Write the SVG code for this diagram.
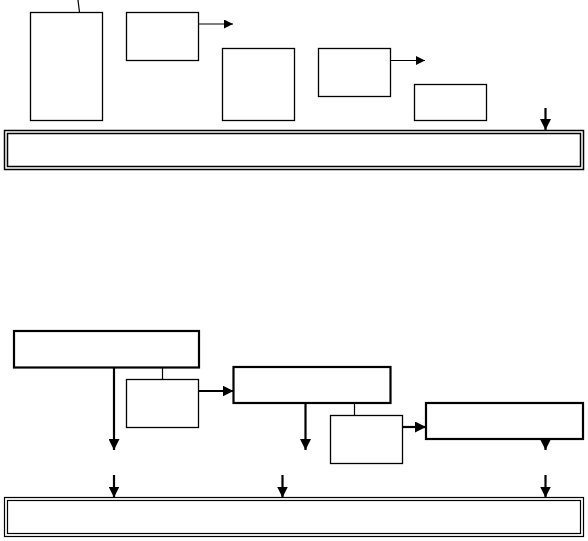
<svg xmlns="http://www.w3.org/2000/svg" width="588" height="541" viewBox="0 0 588 541">
<defs>
<style>
.b{fill:none;stroke:#000;stroke-width:1.3}
.t{fill:none;stroke:#000;stroke-width:2.2}
.c{fill:none;stroke:#000;stroke-width:1.2}
.k{fill:none;stroke:#000;stroke-width:2.2}
</style>
<marker id="ah" viewBox="0 0 10 10" refX="10" refY="5" markerWidth="9" markerHeight="9" markerUnits="userSpaceOnUse" orient="auto"><path d="M0,0L10,5L0,10z" fill="#000"/></marker>
<marker id="ak" viewBox="0 0 10 10" refX="10" refY="5" markerWidth="5" markerHeight="5" orient="auto"><path d="M0,0L10,5L0,10z" fill="#000"/></marker>
</defs>
<rect width="588" height="541" fill="#fff"/>
<g id="top-tall"><rect class="b" x="30.5" y="12.5" width="72" height="108"/></g>
<g id="top-box2"><rect class="b" x="126.5" y="12.5" width="72" height="48"/></g>
<g id="top-box3"><rect class="b" x="222.5" y="48.5" width="72" height="72"/></g>
<g id="top-box4"><rect class="b" x="318.5" y="48.5" width="72" height="48"/></g>
<g id="top-box5"><rect class="b" x="414.5" y="84.5" width="72" height="36"/></g>
<g id="top-bar">
<rect fill="none" stroke="#000" stroke-width="1.5" x="4.5" y="130.5" width="579" height="39"/>
<rect fill="none" stroke="#000" stroke-width="1.5" x="7.5" y="133.5" width="573" height="33"/>
</g>
<g id="bot-box1"><rect class="t" x="14" y="331" width="185" height="36.5"/></g>
<g id="bot-small1"><rect class="b" x="126.5" y="379.5" width="72" height="48"/></g>
<g id="bot-box2"><rect class="t" x="233.5" y="367" width="157" height="36"/></g>
<g id="bot-small2"><rect class="b" x="330.5" y="415.5" width="72" height="48"/></g>
<g id="bot-box3"><rect class="t" x="426" y="403" width="157" height="36"/></g>
<g id="bot-bar">
<rect fill="none" stroke="#000" stroke-width="1.2" x="4.5" y="497.5" width="579" height="39"/>
<rect fill="none" stroke="#000" stroke-width="1.2" x="7.5" y="500.5" width="573" height="33"/>
</g>
<g id="connectors">
<path class="c" d="M78,0L79.5,12.5"/>
<path class="c" d="M198.5,24H233" marker-end="url(#ah)"/>
<path class="c" d="M390.5,60.5H425" marker-end="url(#ah)"/>
<path class="k" d="M545.5,108V130" marker-end="url(#ak)"/>
<path class="k" d="M114,367.5V450" marker-end="url(#ak)"/>
<path class="c" d="M162.5,367.5V379.5"/>
<path class="k" d="M198.5,391H233.5" marker-end="url(#ak)"/>
<path class="k" d="M305.5,403V450" marker-end="url(#ak)"/>
<path class="c" d="M354.5,403V415.5"/>
<path class="k" d="M402.5,427H426" marker-end="url(#ak)"/>
<path class="k" d="M545.5,439V450" marker-end="url(#ak)"/>
<path class="k" d="M114,475V497.5" marker-end="url(#ak)"/>
<path class="k" d="M282.5,475V497.5" marker-end="url(#ak)"/>
<path class="k" d="M545.5,475V497.5" marker-end="url(#ak)"/>
</g>
</svg>
